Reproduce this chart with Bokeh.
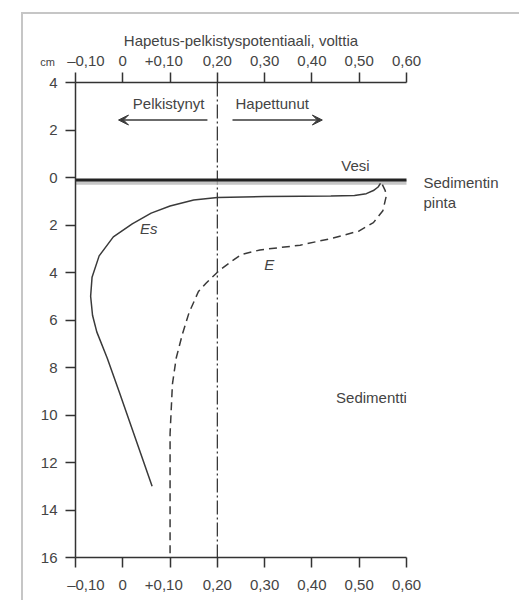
from bokeh.plotting import figure
from bokeh.models import Range1d, LinearAxis, FixedTicker, Label, Arrow, VeeHead
from bokeh.embed import file_html
from bokeh.resources import INLINE

# ---- data ----
NB = "\u00a0"
x_ticks = [-0.10, 0.0, 0.10, 0.20, 0.30, 0.40, 0.50, 0.60]
x_tick_labels = [NB * 5 + "–0,10", "0", "+0,10" + NB * 3, "0,20", "0,30", "0,40", "0,50", "0,60"]
y_ticks = [-4, -2, 0, 2, 4, 6, 8, 10, 12, 14, 16]
y_tick_labels = ["4", "2", "0", "2", "4", "6", "8", "10", "12", "14", "16"]

# Es curve (solid): potential (V) vs depth (cm)
es_potential = [0.545, 0.540, 0.530, 0.515, 0.490, 0.440, 0.380, 0.300, 0.200, 0.150,
                0.100, 0.060, 0.020, -0.020, -0.050, -0.065, -0.068, -0.064, -0.055,
                -0.033, -0.008, 0.020, 0.062]
es_depth = [0.25, 0.40, 0.55, 0.68, 0.76, 0.78, 0.79, 0.80, 0.84, 0.95,
            1.20, 1.50, 1.95, 2.50, 3.30, 4.20, 5.00, 5.80, 6.50,
            7.60, 9.00, 10.60, 13.00]

# E curve (dashed)
e_potential = [0.549, 0.555, 0.557, 0.550, 0.530, 0.500, 0.445, 0.375, 0.290, 0.250,
               0.232, 0.205, 0.176, 0.160, 0.140, 0.126, 0.113, 0.105, 0.100, 0.100]
e_depth = [0.30, 0.55, 0.80, 1.40, 1.90, 2.25, 2.55, 2.85, 3.05, 3.25,
           3.50, 3.90, 4.45, 4.80, 5.70, 6.60, 7.60, 8.70, 10.80, 16.00]

boundary_potential = 0.20
surface_depth = 0.10
surface_band = [0.10, 0.30]
surface_label_depth = 0.63

FONT = "Liberation Sans"
TXT = "#444444"
LINE = "#3a3a3a"

p = figure(width=498, height=588, output_backend="svg", toolbar_location=None,
           x_range=Range1d(-0.10, 0.60), y_range=Range1d(16, -4),
           x_axis_location=None, y_axis_location=None,
           min_border_left=52, min_border_right=115, min_border_top=68, min_border_bottom=45,
           background_fill_color="white", border_fill_color="white",
           margin=(12, 0, 0, 21),
           styles={"border-top": "2px solid #c6c6c6", "border-left": "2px solid #c6c6c6"})
p.outline_line_color = None
p.grid.visible = False

def style_axis(ax, standoff):
    ax.major_tick_out = 10
    ax.major_tick_in = 0
    ax.minor_tick_out = 0
    ax.minor_tick_in = 0
    ax.axis_line_color = "#333333"
    ax.axis_line_width = 1.5
    ax.major_tick_line_color = "#333333"
    ax.major_tick_line_width = 1.5
    ax.major_label_text_font = FONT
    ax.major_label_text_font_size = "15px"
    ax.major_label_text_color = TXT
    ax.major_label_standoff = standoff

top = LinearAxis(ticker=FixedTicker(ticks=x_ticks),
                 major_label_overrides=dict(zip(x_ticks, x_tick_labels)),
                 axis_label="Hapetus-pelkistyspotentiaali, volttia")
style_axis(top, 4)
top.axis_label_text_font = FONT
top.axis_label_text_font_size = "15px"
top.axis_label_text_font_style = "normal"
top.axis_label_text_color = TXT
top.axis_label_standoff = 0
p.add_layout(top, "above")

bottom = LinearAxis(ticker=FixedTicker(ticks=x_ticks),
                    major_label_overrides=dict(zip(x_ticks, x_tick_labels)))
style_axis(bottom, 8)
p.add_layout(bottom, "below")

left = LinearAxis(ticker=FixedTicker(ticks=y_ticks),
                  major_label_overrides=dict(zip(y_ticks, y_tick_labels)))
style_axis(left, 8)
p.add_layout(left, "left")

# right-side label for the sediment surface, as a tick label
right = LinearAxis(ticker=FixedTicker(ticks=[surface_label_depth]),
                   major_label_overrides={surface_label_depth: "Sedimentin\npinta"})
style_axis(right, 17)
right.axis_line_color = None
right.major_tick_line_color = None
right.major_tick_out = 0
p.add_layout(right, "right")

# "cm" unit label, placed in a side panel so it is not clipped to the frame
p.add_layout(Label(x=-0.159, y=-4.85, text="cm", text_align="center", text_baseline="middle",
                   text_font=FONT, text_font_size="11px", text_color=TXT), "above")

# boundary (dash-dot)
p.line([boundary_potential, boundary_potential], [-4, 16], line_color=LINE,
       line_width=1.3, line_dash="14 3 2 3")

# sediment surface
p.varea(x=[-0.10, 0.604], y1=[surface_band[0]] * 2, y2=[surface_band[1]] * 2,
        fill_color="#b8b8b8", fill_alpha=0.8)
p.line([-0.10, 0.604], [surface_depth, surface_depth], line_color="#222222", line_width=3)

# curves
p.line(es_potential, es_depth, line_color=LINE, line_width=1.5)
p.line(e_potential, e_depth, line_color=LINE, line_width=1.5, line_dash="8 5")

# arrows
p.add_layout(Arrow(x_start=0.179, y_start=-2.42, x_end=-0.009, y_end=-2.42,
                   line_color=LINE, line_width=1.5,
                   end=VeeHead(size=10, fill_color=LINE, line_color=LINE)))
p.add_layout(Arrow(x_start=0.232, y_start=-2.42, x_end=0.422, y_end=-2.42,
                   line_color=LINE, line_width=1.5,
                   end=VeeHead(size=10, fill_color=LINE, line_color=LINE)))

def lab(x, y, t, align="center", italic=False):
    p.add_layout(Label(x=x, y=y, text=t, text_align=align, text_baseline="middle",
                       text_font=FONT, text_font_size="15px", text_color=TXT,
                       text_font_style="italic" if italic else "normal"))

lab(0.097, -3.12, "Pelkistynyt")
lab(0.316, -3.12, "Hapettunut")
lab(0.492, -0.50, "Vesi")
lab(0.055, 2.15, "Es", italic=True)
lab(0.310, 3.66, "E", italic=True)
lab(0.526, 9.26, "Sedimentti")

open("out.html", "w").write(file_html(p, INLINE))
